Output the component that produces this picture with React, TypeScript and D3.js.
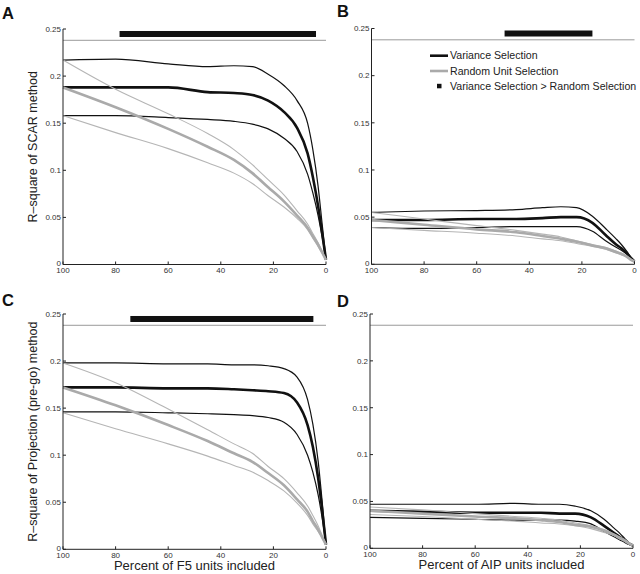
import React from "react";
import * as d3 from "d3";

// ---------- data ----------
const PCT = [100, 80, 60, 45, 35, 28, 22, 16, 11, 7, 5, 3, 1.5, 0];
const X_TICKS = [100, 80, 60, 40, 20, 0];
const Y_TICKS = [0, 0.05, 0.1, 0.15, 0.2, 0.25];
const CHANCE_LEVEL = 0.238;
const BAR_LEVEL = 0.2447;

// Panel A (F5, SCAR)
const A_VAR_UP = [0.217, 0.218, 0.213, 0.210, 0.211, 0.210, 0.202, 0.190, 0.174, 0.150, 0.122, 0.083, 0.044, 0.005];
const A_VAR_MEAN = [0.188, 0.188, 0.188, 0.183, 0.182, 0.180, 0.174, 0.162, 0.145, 0.118, 0.093, 0.062, 0.034, 0.005];
const A_VAR_LOW = [0.158, 0.158, 0.156, 0.154, 0.152, 0.149, 0.144, 0.134, 0.120, 0.096, 0.076, 0.052, 0.030, 0.005];
const A_RND_UP = [0.217, 0.186, 0.160, 0.139, 0.122, 0.106, 0.090, 0.074, 0.057, 0.043, 0.033, 0.023, 0.014, 0.005];
const A_RND_MEAN = [0.188, 0.167, 0.144, 0.125, 0.111, 0.097, 0.082, 0.067, 0.052, 0.039, 0.030, 0.021, 0.013, 0.005];
const A_RND_LOW = [0.158, 0.140, 0.123, 0.108, 0.097, 0.086, 0.073, 0.061, 0.049, 0.037, 0.028, 0.019, 0.012, 0.005];
const A_SIG = [78.5, 3.8];

// Panel B (AIP, SCAR)
const B_VAR_UP = [0.055, 0.0565, 0.057, 0.058, 0.060, 0.061, 0.060, 0.051, 0.038, 0.027, 0.021, 0.014, 0.008, 0.003];
const B_VAR_MEAN = [0.047, 0.047, 0.048, 0.048, 0.049, 0.050, 0.050, 0.044, 0.031, 0.021, 0.017, 0.012, 0.007, 0.003];
const B_VAR_LOW = [0.039, 0.038, 0.039, 0.040, 0.040, 0.040, 0.040, 0.035, 0.025, 0.018, 0.015, 0.011, 0.007, 0.003];
const B_RND_UP = [0.055, 0.048, 0.041, 0.036, 0.032, 0.029, 0.025, 0.021, 0.018, 0.014, 0.012, 0.009, 0.006, 0.003];
const B_RND_MEAN = [0.047, 0.042, 0.037, 0.034, 0.030, 0.027, 0.024, 0.020, 0.017, 0.013, 0.011, 0.008, 0.005, 0.003];
const B_RND_LOW = [0.039, 0.036, 0.033, 0.030, 0.027, 0.025, 0.022, 0.019, 0.016, 0.012, 0.010, 0.008, 0.005, 0.003];
const B_SIG = [49.4, 16];

// Panel C (F5, Projection)
const C_VAR_UP = [0.198, 0.198, 0.197, 0.197, 0.196, 0.196, 0.195, 0.192, 0.183, 0.159, 0.133, 0.094, 0.052, 0.005];
const C_VAR_MEAN = [0.172, 0.172, 0.171, 0.171, 0.170, 0.169, 0.168, 0.166, 0.156, 0.132, 0.109, 0.076, 0.043, 0.005];
const C_VAR_LOW = [0.146, 0.146, 0.145, 0.144, 0.143, 0.142, 0.140, 0.135, 0.122, 0.100, 0.082, 0.058, 0.034, 0.005];
const C_RND_UP = [0.198, 0.177, 0.149, 0.127, 0.112, 0.102, 0.088, 0.075, 0.060, 0.046, 0.036, 0.025, 0.015, 0.005];
const C_RND_MEAN = [0.172, 0.153, 0.132, 0.115, 0.102, 0.093, 0.081, 0.068, 0.053, 0.040, 0.030, 0.021, 0.013, 0.005];
const C_RND_LOW = [0.145, 0.128, 0.112, 0.099, 0.089, 0.082, 0.073, 0.062, 0.049, 0.036, 0.027, 0.019, 0.012, 0.005];
const C_SIG = [74.4, 4.8];

// Panel D (AIP, Projection)
const D_VAR_UP = [0.047, 0.047, 0.047, 0.048, 0.047, 0.047, 0.045, 0.040, 0.031, 0.021, 0.016, 0.010, 0.006, 0.003];
const D_VAR_MEAN = [0.040, 0.039, 0.038, 0.038, 0.038, 0.037, 0.037, 0.033, 0.024, 0.016, 0.012, 0.008, 0.005, 0.003];
const D_VAR_LOW = [0.033, 0.032, 0.031, 0.030, 0.030, 0.030, 0.029, 0.026, 0.018, 0.012, 0.009, 0.006, 0.004, 0.003];
const D_RND_UP = [0.044, 0.041, 0.037, 0.034, 0.032, 0.030, 0.027, 0.024, 0.020, 0.015, 0.012, 0.009, 0.006, 0.003];
const D_RND_MEAN = [0.040, 0.037, 0.034, 0.032, 0.030, 0.028, 0.025, 0.023, 0.019, 0.014, 0.011, 0.008, 0.005, 0.003];
const D_RND_LOW = [0.036, 0.034, 0.031, 0.029, 0.027, 0.026, 0.024, 0.021, 0.017, 0.013, 0.010, 0.007, 0.005, 0.003];
const D_SIG: number[] | null = null;

const LEGEND_LABELS = ["Variance Selection", "Random Unit Selection", "Variance Selection > Random Selection"];
const Y_LABEL_TOP = "R\u2013square of SCAR method";
const Y_LABEL_BOTTOM = "R\u2013square of Projection (pre-go) method";
const X_LABEL_LEFT = "Percent of F5 units included";
const X_LABEL_RIGHT = "Percent of AIP units included";

// ---------- layout ----------
const FONT = "'Liberation Sans', Arial, Helvetica, sans-serif";
const BLACK = "#111";
const GRAY = "#aaaaaa";
const GRAY_THIN = "#b5b5b5";

type PanelDef = {
  letter: string;
  x0: number; x1: number; y0: number; y1: number;
  varUp: number[]; varMean: number[]; varLow: number[];
  rndUp: number[]; rndMean: number[]; rndLow: number[];
  sig: number[] | null;
  yLabel?: string;
  xLabel?: string;
  legend?: boolean;
  letterX: number; letterY: number;
};

const PANELS: PanelDef[] = [
  { letter: "A", x0: 63, x1: 326, y0: 29, y1: 264.5, varUp: A_VAR_UP, varMean: A_VAR_MEAN, varLow: A_VAR_LOW, rndUp: A_RND_UP, rndMean: A_RND_MEAN, rndLow: A_RND_LOW, sig: A_SIG, yLabel: Y_LABEL_TOP, letterX: 2, letterY: 18.5 },
  { letter: "B", x0: 371.5, x1: 634.5, y0: 28.5, y1: 264.3, varUp: B_VAR_UP, varMean: B_VAR_MEAN, varLow: B_VAR_LOW, rndUp: B_RND_UP, rndMean: B_RND_MEAN, rndLow: B_RND_LOW, sig: B_SIG, legend: true, letterX: 337, letterY: 17 },
  { letter: "C", x0: 63, x1: 326, y0: 314, y1: 549.3, varUp: C_VAR_UP, varMean: C_VAR_MEAN, varLow: C_VAR_LOW, rndUp: C_RND_UP, rndMean: C_RND_MEAN, rndLow: C_RND_LOW, sig: C_SIG, yLabel: Y_LABEL_BOTTOM, xLabel: X_LABEL_LEFT, letterX: 2, letterY: 305.5 },
  { letter: "D", x0: 370, x1: 633, y0: 314, y1: 548.3, varUp: D_VAR_UP, varMean: D_VAR_MEAN, varLow: D_VAR_LOW, rndUp: D_RND_UP, rndMean: D_RND_MEAN, rndLow: D_RND_LOW, sig: D_SIG, xLabel: X_LABEL_RIGHT, letterX: 337, letterY: 306.5 },
];

function fmtY(v: number) {
  if (v === 0) return "0";
  return String(+v.toFixed(2));
}

function Panel({ p }: { p: PanelDef }) {
  const xs = d3.scaleLinear().domain([100, 0]).range([p.x0, p.x1]);
  const ys = d3.scaleLinear().domain([0, 0.25]).range([p.y1, p.y0]);
  const line = d3
    .line<number>()
    .x((_, i) => xs(PCT[i]))
    .y((d) => ys(d))
    .curve(d3.curveMonotoneX);

  const tick = 3;
  return (
    <g>
      <text x={p.letterX} y={p.letterY} fontFamily={FONT} fontWeight="bold" fontSize={16.5} fill="#111">
        {p.letter}
      </text>
      {/* chance level line */}
      <line x1={p.x0} x2={p.x1} y1={ys(CHANCE_LEVEL)} y2={ys(CHANCE_LEVEL)} stroke="#9a9a9a" strokeWidth={1} />
      {/* significance bar */}
      {p.sig && (
        <rect
          x={xs(p.sig[0])}
          width={xs(p.sig[1]) - xs(p.sig[0])}
          y={ys(BAR_LEVEL) - 3}
          height={6}
          fill="#111"
        />
      )}
      {/* variance selection curves */}
      <path d={line(p.varUp) || ""} fill="none" stroke={BLACK} strokeWidth={1.2} />
      <path d={line(p.varLow) || ""} fill="none" stroke={BLACK} strokeWidth={1.2} />
      <path d={line(p.varMean) || ""} fill="none" stroke={BLACK} strokeWidth={2.6} />
      {/* random selection curves */}
      <path d={line(p.rndUp) || ""} fill="none" stroke={GRAY_THIN} strokeWidth={1.1} />
      <path d={line(p.rndLow) || ""} fill="none" stroke={GRAY_THIN} strokeWidth={1.1} />
      <path d={line(p.rndMean) || ""} fill="none" stroke={GRAY} strokeWidth={2.6} />
      {/* axes */}
      <line x1={p.x0} x2={p.x0} y1={p.y0} y2={p.y1} stroke="#222" strokeWidth={1} />
      <line x1={p.x0} x2={p.x1} y1={p.y1} y2={p.y1} stroke="#222" strokeWidth={1} />
      {Y_TICKS.map((t) => (
        <g key={"y" + t}>
          <line x1={p.x0} x2={p.x0 + tick} y1={ys(t)} y2={ys(t)} stroke="#222" strokeWidth={1} />
          <text x={p.x0 - 2} y={ys(t) - (t === 0 ? 1 : 0)} dy="0.35em" textAnchor="end" fontFamily={FONT} fontSize={8} fill="#333">
            {fmtY(t)}
          </text>
        </g>
      ))}
      {X_TICKS.map((t) => (
        <g key={"x" + t}>
          <line x1={xs(t)} x2={xs(t)} y1={p.y1} y2={p.y1 - tick} stroke="#222" strokeWidth={1} />
          <text x={xs(t)} y={p.y1 + 8.5} textAnchor="middle" fontFamily={FONT} fontSize={8} fill="#333">
            {t}
          </text>
        </g>
      ))}
      {p.yLabel && (
        <text
          transform={`translate(${p.x0 - 26},${(p.y0 + p.y1) / 2}) rotate(-90)`}
          textAnchor="middle"
          fontFamily={FONT}
          fontSize={12.5}
          fill="#222"
        >
          {p.yLabel}
        </text>
      )}
      {p.xLabel && (
        <text x={(p.x0 + p.x1) / 2} y={p.y1 + 20.5} textAnchor="middle" fontFamily={FONT} fontSize={13} fill="#222">
          {p.xLabel}
        </text>
      )}
      {p.legend && (
        <g fontFamily={FONT} fontSize={10.6} fill="#222">
          <line x1={430} x2={448} y1={55.7} y2={55.7} stroke={BLACK} strokeWidth={2.6} />
          <text x={450} y={55.7} dy="0.35em">{LEGEND_LABELS[0]}</text>
          <line x1={430} x2={448} y1={71} y2={71} stroke={GRAY} strokeWidth={2.6} />
          <text x={450} y={71} dy="0.35em">{LEGEND_LABELS[1]}</text>
          <rect x={437} y={83.8} width={4.5} height={4.5} fill="#111" />
          <text x={450} y={86} dy="0.35em">{LEGEND_LABELS[2]}</text>
        </g>
      )}
    </g>
  );
}

export default function App() {
  return (
    <svg
      width={640}
      height={574}
      viewBox="0 0 640 574"
      style={{ position: "absolute", left: 0, top: 0, background: "#fff" }}
    >
      <rect width={640} height={574} fill="#fff" />
      {PANELS.map((p) => (
        <Panel key={p.letter} p={p} />
      ))}
    </svg>
  );
}
